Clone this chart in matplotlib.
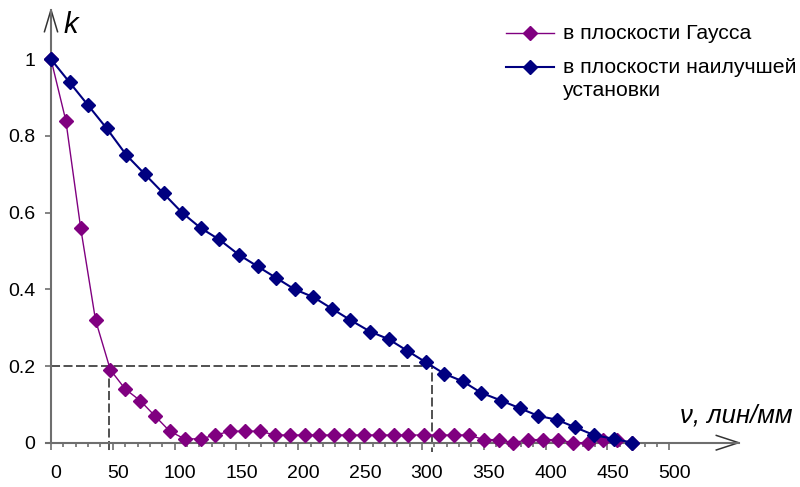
import matplotlib
matplotlib.use("Agg")
import matplotlib.pyplot as plt
from matplotlib.transforms import ScaledTranslation

plt.rcParams['font.family'] = ['Liberation Sans', 'DejaVu Sans']
plt.rcParams['lines.scale_dashes'] = False

# частоты, лин/мм
nu_gauss = [0, 12, 24, 36, 48, 60, 72, 84, 96, 108, 121, 133, 145, 157, 169, 181,
            193, 205, 217, 229, 241, 253, 265, 277, 289, 302, 314, 326, 338, 350,
            362, 374, 386, 398, 410, 422, 434, 446, 458, 470]
k_gauss = [1.0, 0.84, 0.56, 0.32, 0.19, 0.14, 0.11, 0.07, 0.03, 0.01, 0.01, 0.02,
           0.03, 0.03, 0.03, 0.02, 0.02, 0.02, 0.02, 0.02, 0.02, 0.02, 0.02, 0.02,
           0.02, 0.02, 0.02, 0.02, 0.02, 0.008, 0.008, 0.0, 0.008, 0.008, 0.008,
           0.0, 0.0, 0.008, 0.008, 0.0]

nu_best = [0, 15, 30, 45, 61, 76, 91, 106, 121, 136, 152, 167, 182, 197, 212, 227,
           242, 258, 273, 288, 303, 318, 333, 348, 364, 379, 394, 409, 424, 439,
           455, 470]
k_best = [1.0, 0.94, 0.88, 0.82, 0.75, 0.70, 0.65, 0.60, 0.56, 0.53, 0.49, 0.46,
          0.43, 0.40, 0.38, 0.35, 0.32, 0.29, 0.27, 0.24, 0.21, 0.18, 0.16, 0.13,
          0.11, 0.09, 0.07, 0.06, 0.04, 0.02, 0.01, 0.0]

k_level = 0.2
nu_cut_gauss = 47
nu_cut_best = 308

x_ticks = list(range(0, 501, 50))
x_minor = list(range(0, 501, 10))
y_ticks = [0, 0.2, 0.4, 0.6, 0.8, 1.0]
y_labels = ['0', '0.2', '0.4', '0.6', '0.8', '1']

label_gauss = 'в плоскости Гаусса'
label_best = 'в плоскости наилучшей\nустановки'

PURPLE = '#800080'
NAVY = '#000080'
AXC = '#6e6e6e'
W, H = 800, 487

fig = plt.figure(figsize=(8, 4.87), dpi=100)
ax = fig.add_axes([0, 0, 1, 1])
ax.set_xlim(-51 / 1.2366, 749 / 1.2366)
ax.set_ylim(-44.3 / 383.4, 442.7 / 383.4)

# оси со стрелками
x_end, y_end = 556, 1.129
for s in ['top', 'right']:
    ax.spines[s].set_visible(False)
ax.spines['left'].set_position(('data', 0))
ax.spines['bottom'].set_position(('data', 0))
ax.spines['left'].set_bounds(0, y_end)
ax.spines['bottom'].set_bounds(-4, x_end)
for s in ['left', 'bottom']:
    ax.spines[s].set_color(AXC)
    ax.spines[s].set_linewidth(1.5)
ax.plot([-5.3, 0, 5.3], [y_end - 0.057, y_end, y_end - 0.057], color='#333333',
        lw=1.1, clip_on=False)
ax.plot([x_end - 18, x_end, x_end - 18], [0.019, 0, -0.019], color='#333333',
        lw=1.1, clip_on=False)

ax.set_xticks(x_ticks)
ax.set_xticks(x_minor, minor=True)
ax.set_xticklabels([str(t) for t in x_ticks])
ax.set_yticks(y_ticks)
ax.set_yticklabels(y_labels)
ax.tick_params(axis='x', which='major', direction='out', length=5, width=1.2,
               color=AXC, pad=11, labelsize=14)
ax.tick_params(axis='x', which='minor', direction='out', length=3.2, width=1.2,
               color=AXC)
ax.tick_params(axis='y', direction='out', length=4.5, width=1.2, color=AXC,
               pad=7, labelsize=14)
# подписи по оси x чуть смещены вправо, как в оригинале
shift = ScaledTranslation(5 / 100, 0, fig.dpi_scale_trans)
for lab in ax.get_xticklabels():
    lab.set_transform(lab.get_transform() + shift)

# пунктирные линии уровня 0.2
ax.plot([0, nu_cut_best, nu_cut_best], [k_level, k_level, -0.025],
        color='#333333', lw=1.2, dashes=(6.5, 2.5), zorder=2, clip_on=False)
ax.plot([nu_cut_gauss, nu_cut_gauss], [k_level, -0.025],
        color='#333333', lw=1.2, dashes=(6.5, 2.5), zorder=2, clip_on=False)

ax.plot(nu_gauss, k_gauss, color=PURPLE, lw=1.0, marker='D', ms=7,
        mec=PURPLE, mfc=PURPLE, zorder=3, clip_on=False)
ax.plot(nu_best, k_best, color=NAVY, lw=1.5, marker='D', ms=7,
        mec=NAVY, mfc=NAVY, zorder=4, clip_on=False)

ax.text(10.5, 1.069, 'k', fontsize=21, style='italic', va='baseline', ha='left')
ax.text(680 / W, 1 - 423 / H, 'ν, лин/мм', fontsize=18.5, style='italic',
        transform=ax.transAxes, va='baseline', ha='left')

# легенда
for yy, col, lw, lab in [(33, PURPLE, 1.0, label_gauss), (67, NAVY, 1.5, label_best)]:
    ax.plot([506 / W, 554 / W], [1 - yy / H] * 2, color=col, lw=lw,
            transform=ax.transAxes)
    ax.plot([530 / W], [1 - yy / H], marker='D', ms=7, color=col,
            transform=ax.transAxes)
    ax.text(563 / W, 1 - (yy - 9) / H, lab, fontsize=15.3, va='top', ha='left',
            linespacing=1.3, transform=ax.transAxes)

fig.savefig('out.png', dpi=100)
